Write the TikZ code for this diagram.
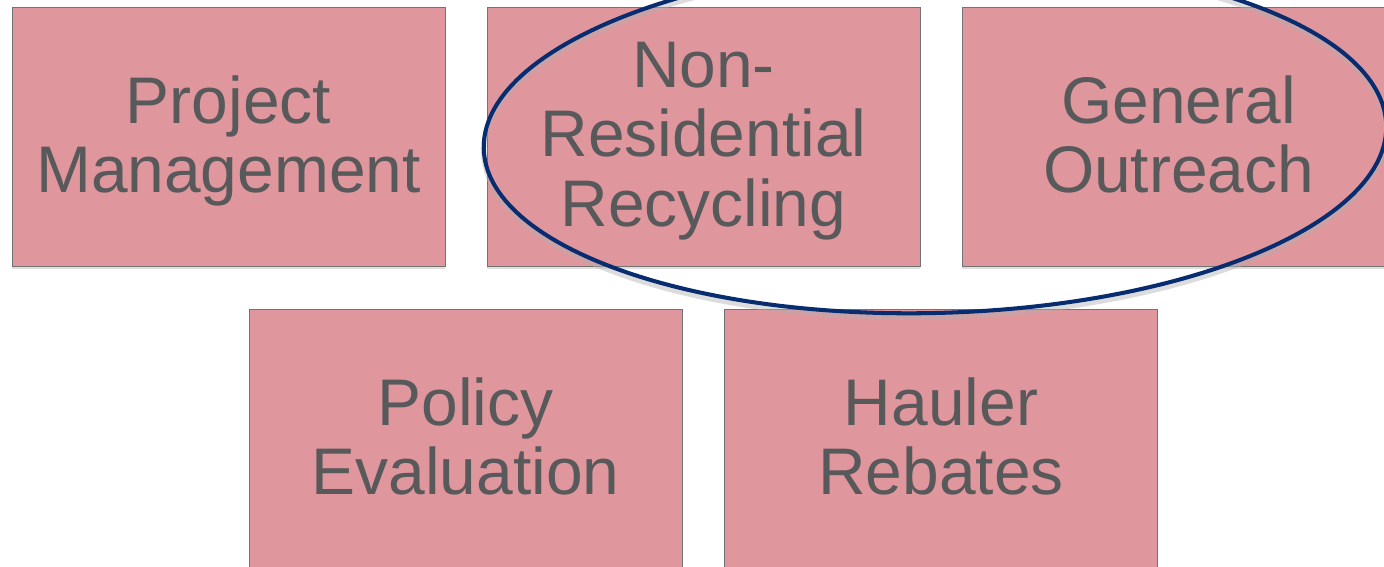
\documentclass[tikz,border=0pt]{standalone}
\usepackage{fontspec}
\setmainfont{Liberation Sans}
\usetikzlibrary{shapes.geometric,shadows}
\definecolor{boxpink}{RGB}{223,150,156}
\definecolor{boxtext}{RGB}{88,89,91}
\definecolor{ringblue}{RGB}{8,44,112}
\begin{document}
\begin{tikzpicture}[x=0.02cm,y=-0.02cm,
  task/.style={shape=rectangle,draw=black!55,line width=0.5pt,fill=boxpink,
    minimum width=8.66cm,minimum height=5.18cm,inner sep=0pt,align=center,
    text=boxtext,font=\fontsize{37.5}{39.5}\selectfont,
    text depth=0.1cm,
    drop shadow={shadow xshift=0pt,shadow yshift=-1.5pt,opacity=0.25}},
  ring/.style={shape=ellipse,draw=ringblue,line width=2.3pt,
    minimum width=18.06cm,minimum height=7.04cm,inner sep=0pt,rotate=1.5}]
\useasboundingbox (0,0) rectangle (1384,567);
\clip (0,0) rectangle (1384,567);
\node(pm) at (228.5,136.5)[task]   {Project\\Management};
\node(nrr) at (703.5,136.5)[task]  {Non-\\Residential\\Recycling};
\node(go) at (1178.5,136.5)[task]  {General\\Outreach};
\node(pe) at (465.5,438.5)[task]   {Policy\\Evaluation};
\node(hr) at (941,438.5)[task]     {Hauler\\Rebates};
% highlight round the two focus areas
\node(focusshade) at (935,141)[ring,draw=black!30,line width=3pt,opacity=0.45] {};
\node(focus) at (935,137)[ring] {};
\end{tikzpicture}
\end{document}
